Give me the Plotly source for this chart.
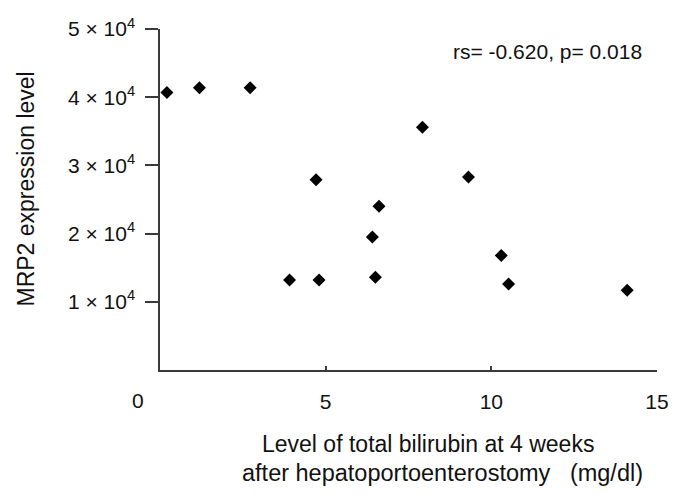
import plotly.graph_objects as go

# Data
bilirubin = [0.21, 1.19, 2.72, 4.71, 3.91, 4.80, 6.61, 6.41, 6.50, 7.92, 9.31, 10.30, 10.52, 14.10]
mrp2 = [40700, 41400, 41400, 27900, 13200, 13200, 24000, 19500, 13600, 35600, 28300, 16800, 12600, 11700]

x_ticks = [5, 10, 15]
x_tick_labels = ["5", "10", "15"]
y_ticks = [10000, 20000, 30000, 40000, 50000]
y_tick_labels = ["1 × 10<sup>4</sup>", "2 × 10<sup>4</sup>", "3 × 10<sup>4</sup>",
                 "4 × 10<sup>4</sup>", "5 × 10<sup>4</sup>"]

W, H = 685, 496
L, R, T, B = 160, 28, 29, 126
PW, PH = W - L - R, H - T - B


def px(p):
    return (p - L) / PW


def py(p):
    return (H - B - p) / PH


FONT = "Liberation Sans, Arial, sans-serif"
AX = "#3a3a3a"
TXT = "#111111"

fig = go.Figure()
fig.add_trace(go.Scatter(
    x=bilirubin, y=mrp2, mode="markers",
    marker=dict(symbol="diamond", size=10, color="black"),
    showlegend=False,
))

fig.update_layout(
    width=W, height=H,
    margin=dict(l=L, r=R, t=T, b=B),
    paper_bgcolor="white", plot_bgcolor="white",
    font=dict(family=FONT, color=TXT),
    xaxis=dict(range=[0, 15], showgrid=False, zeroline=False,
               showline=True, linecolor=AX, linewidth=1.5,
               ticks="inside", ticklen=4, tickcolor=AX, tickwidth=1.5,
               tickvals=x_ticks, ticktext=x_tick_labels,
               tickfont=dict(size=21, family=FONT, color=TXT),
               ticklabelstandoff=12),
    yaxis=dict(range=[0, 50000], showgrid=False, zeroline=False,
               showline=True, linecolor=AX, linewidth=1.5,
               ticks="outside", ticklen=13, tickcolor=AX, tickwidth=1.5,
               tickvals=y_ticks, ticktext=y_tick_labels,
               tickfont=dict(size=21, family=FONT, color=TXT),
               ticklabelstandoff=6),
)

ann = [
    dict(text="0", x=px(138), y=py(400), xanchor="center", yanchor="middle",
         font=dict(size=21)),
    dict(text="rs= -0.620, p= 0.018", x=px(644), y=py(51), xanchor="right",
         yanchor="middle", font=dict(size=21)),
    dict(text="MRP2 expression level", x=px(25), y=py(189.5), textangle=-90,
         xanchor="center", yanchor="middle", font=dict(size=23)),
    dict(text="Level of total bilirubin at 4 weeks", x=px(428), y=py(444),
         xanchor="center", yanchor="middle", font=dict(size=23)),
    dict(text="after hepatoportoenterostomy   (mg/dl)", x=px(442), y=py(473),
         xanchor="center", yanchor="middle", font=dict(size=23.5)),
]
for a in ann:
    a.update(xref="paper", yref="paper", showarrow=False)
    fig.add_annotation(**a)

fig.write_html("out.html", config={"displayModeBar": False},
               post_script="document.body.style.margin='0px';")
